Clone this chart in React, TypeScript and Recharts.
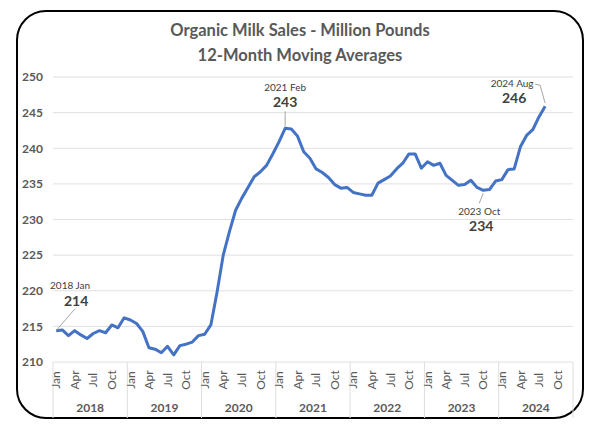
import React from "react";
import { LineChart, Line, XAxis, YAxis, CartesianGrid } from "recharts";

// 12-month moving averages, million pounds, Jan 2018 .. Aug 2024
const years = ["2018", "2019", "2020", "2021", "2022", "2023", "2024"];
const monthLabels = ["Jan", "Apr", "Jul", "Oct"];
const sales = [
  214.4, 214.5, 213.7, 214.4, 213.8, 213.3, 214.0, 214.4, 214.1, 215.2, 214.8, 216.2,
  215.9, 215.4, 214.3, 212.0, 211.8, 211.3, 212.2, 211.0, 212.3, 212.5, 212.8, 213.7,
  213.9, 215.2, 219.8, 225.0, 228.3, 231.3, 233.0, 234.5, 236.0, 236.7, 237.6, 239.2,
  240.9, 242.8, 242.7, 241.7, 239.5, 238.6, 237.1, 236.6, 235.9, 234.9, 234.4, 234.5,
  233.8, 233.6, 233.4, 233.4, 235.1, 235.6, 236.1, 237.1, 237.9, 239.2, 239.2, 237.2,
  238.1, 237.6, 237.9, 236.2, 235.5, 234.8, 234.9, 235.5, 234.5, 234.1, 234.2, 235.4,
  235.6, 237.0, 237.1, 240.2, 241.8, 242.6, 244.4, 245.9,
];
const yTicks = [210, 215, 220, 225, 230, 235, 240, 245, 250];
const notes = [
  { idx: 0, when: "2018 Jan", label: "214" },
  { idx: 37, when: "2021 Feb", label: "243" },
  { idx: 69, when: "2023 Oct", label: "234" },
  { idx: 79, when: "2024 Aug", label: "246" },
];

// offsets of the callouts from their point
const noteLayout: Record<string, any> = {
  "2018 Jan": { wx: 14, wy: -42, vx: 20, vy: -25, lead: [[0, 0], [19, -22]] },
  "2021 Feb": { wx: 0, wy: -37, vx: 0, vy: -21, lead: [[0, -2], [0, -17]] },
  "2023 Oct": { wx: -4, wy: 25, vx: -2, vy: 41, lead: [[0, 3], [-4, 13]] },
  "2024 Aug": { wx: -33, wy: -19, vx: -31, vy: -3, lead: [[0, -3], [-5, -21], [-10, -22]] },
};

const data = sales.map((v, i) => ({ idx: i, value: v }));

const xTicks: number[] = [];
years.forEach((_, k) => {
  xTicks.push(12 * k - 0.5);
  [0, 3, 6, 9].forEach((m) => xTicks.push(12 * k + m));
  xTicks.push(12 * k + 5.5);
});
xTicks.push(12 * years.length - 0.5);

const grey = "#595959";
const font = "Lato, 'Open Sans', sans-serif";

const AxisTick = (props: any) => {
  const { x, y, payload } = props;
  const v = payload.value;
  if ((v + 0.5) % 12 === 0) {
    return <line x1={x} x2={x} y1={y} y2={y + 56} stroke="#dedede" strokeWidth={1} />;
  }
  if ((v - 5.5) % 12 === 0) {
    return (
      <text x={x} y={y + 50} textAnchor="middle" fill={grey} fontSize={12} fontWeight={700} fontFamily={font}>
        {years[(v - 5.5) / 12]}
      </text>
    );
  }
  const label = monthLabels[(v % 12) / 3];
  return (
    <text
      x={x}
      y={y + 18}
      transform={`rotate(-90 ${x} ${y + 18})`}
      textAnchor="middle"
      dy="0.35em"
      fill={grey}
      fontSize={12}
      fontFamily={font}
    >
      {label}
    </text>
  );
};

const NoteLabel = (props: any) => {
  const { x, y, index } = props;
  const note = notes.find((n) => n.idx === index);
  if (!note || x == null) return <g key={`n-${index}`} />;
  const l = noteLayout[note.when];
  const pts = l.lead.map((p: number[]) => `${x + p[0]},${y + p[1]}`).join(" ");
  return (
    <g key={`n-${index}`} fontFamily={font}>
      <polyline points={pts} fill="none" stroke="#a6a6a6" strokeWidth={1} />
      <text x={x + l.wx} y={y + l.wy} textAnchor="middle" fontSize={10} fill="#404040">
        {note.when}
      </text>
      <text x={x + l.vx} y={y + l.vy} textAnchor="middle" fontSize={14} fontWeight={700} fill="#404040">
        {note.label}
      </text>
    </g>
  );
};

export default function App() {
  return (
    <div style={{ position: "absolute", left: 0, top: 0, width: 600, height: 427, background: "#fff" }}>
      <div
        style={{
          position: "absolute",
          left: 16,
          top: 10,
          width: 568,
          height: 409,
          border: "2px solid #000",
          borderRadius: 30,
          boxSizing: "border-box",
        }}
      />
      <div
        style={{
          position: "absolute",
          left: 0,
          top: 18,
          width: 600,
          textAlign: "center",
          fontFamily: font,
          fontWeight: 700,
          fontSize: 16.5,
          lineHeight: "25px",
          color: grey,
        }}
      >
        <div>Organic Milk Sales - Million Pounds</div>
        <div>12-Month Moving Averages</div>
      </div>
      <div style={{ position: "absolute", left: 0, top: 0 }}>
        <LineChart width={600} height={427} data={data} margin={{ top: 77, right: 27, bottom: 0, left: 0 }}>
          <CartesianGrid vertical={false} stroke="#e0e0e0" />
          <XAxis
            dataKey="idx"
            type="number"
            domain={[-0.5, 83.5]}
            ticks={xTicks}
            interval={0}
            height={65}
            tickLine={false}
            axisLine={false}
            tickSize={0}
            tickMargin={0}
            tick={<AxisTick />}
          />
          <YAxis
            domain={[210, 250]}
            ticks={yTicks}
            interval={0}
            width={53}
            tickLine={false}
            axisLine={false}
            tickSize={0}
            tickMargin={10}
            tick={{ fill: grey, fontSize: 12, fontWeight: 700, fontFamily: font }}
          />
          <Line
            dataKey="value"
            type="linear"
            stroke="#4472C4"
            strokeWidth={3}
            strokeLinejoin="round"
            dot={false}
            isAnimationActive={false}
            label={NoteLabel}
          />
        </LineChart>
      </div>
    </div>
  );
}
